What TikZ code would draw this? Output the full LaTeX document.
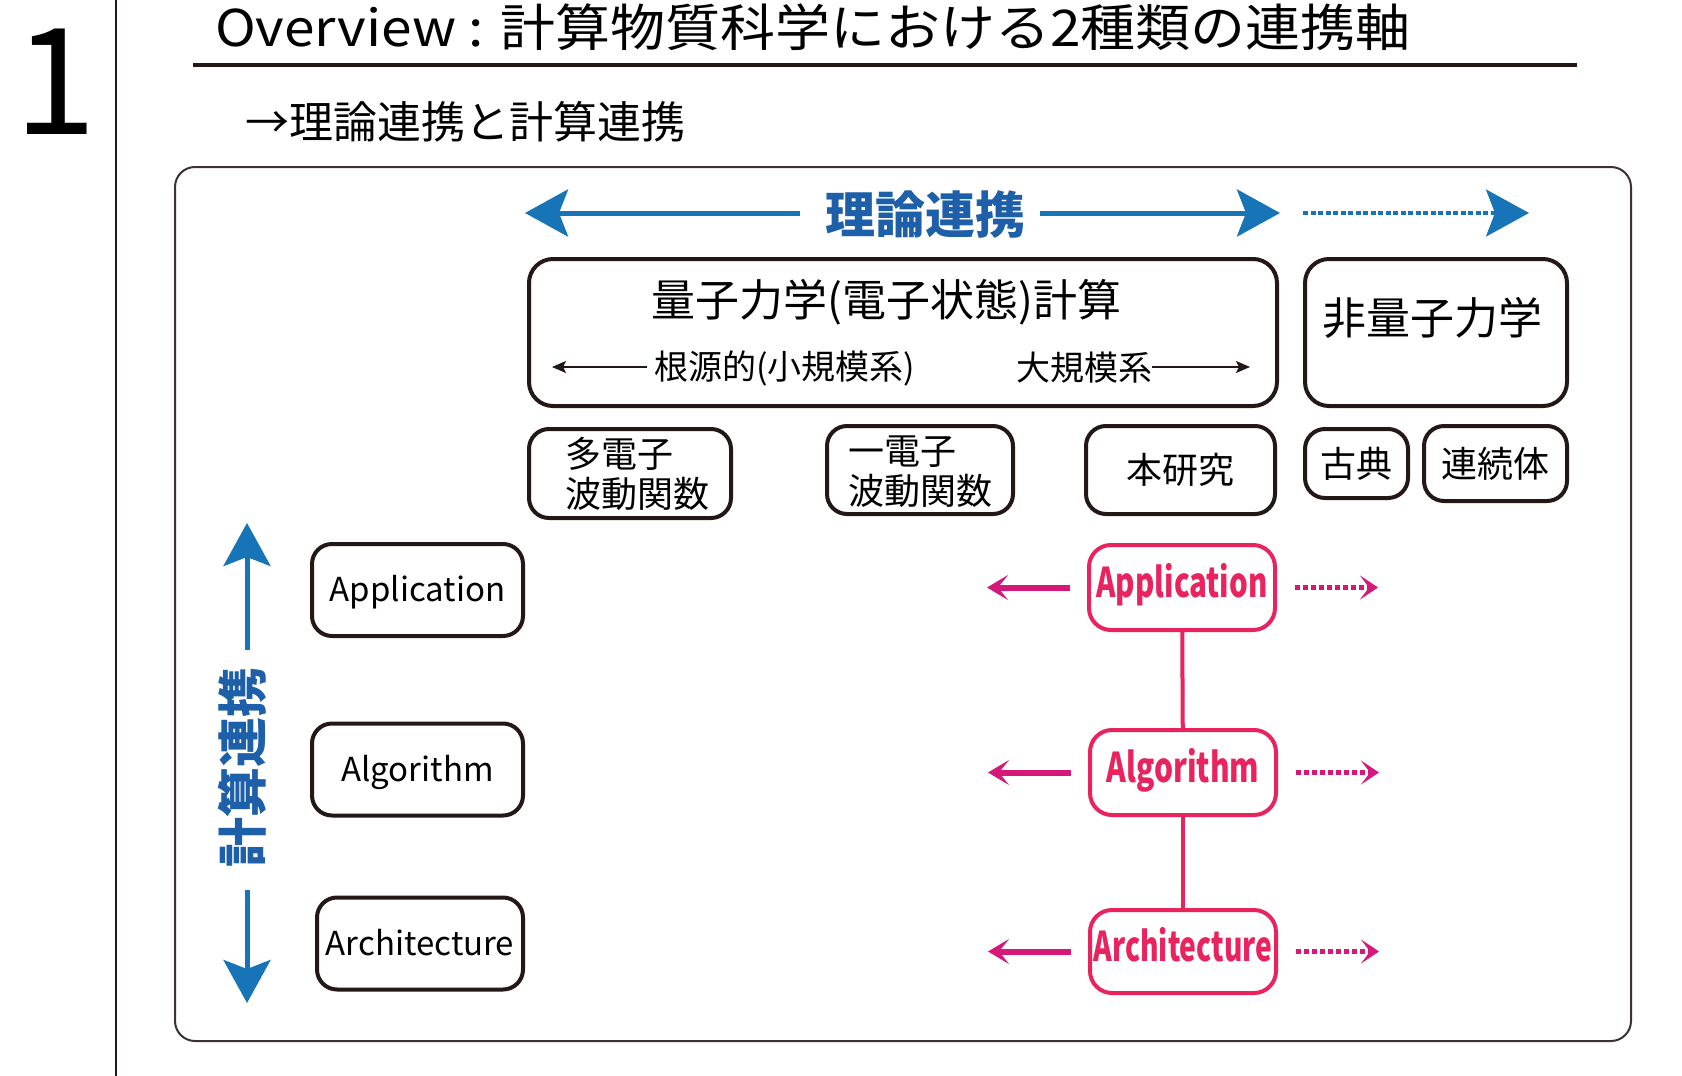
\documentclass[tikz,border=0pt]{standalone}
\usepackage{fontspec}
\setmainfont{Noto Sans CJK JP}
\usetikzlibrary{arrows.meta}
\definecolor{inkc}{RGB}{35,24,21}
\definecolor{bluearr}{RGB}{23,117,183}
\definecolor{bluetxt}{RGB}{30,95,170}
\definecolor{pinkbox}{RGB}{232,35,94}
\definecolor{pinkarr}{RGB}{212,25,122}
\definecolor{framec}{RGB}{60,50,50}
\tikzset{
  bbox/.style={draw=inkc, line width=4pt, rounded corners=20pt},
  lbox/.style={bbox, minimum width=211pt, minimum height=92pt, font=\fontsize{33}{33}\selectfont, text height=23pt, text depth=0pt},
  cjkbox/.style={bbox, font=\fontsize{36}{40}\selectfont},
  pbox/.style={draw=pinkbox, line width=4pt, rounded corners=22pt, minimum width=186pt, minimum height=85pt, text=pinkbox, font=\fontsize{41}{41}\bfseries\selectfont, text height=27pt, text depth=8pt},
  blueaxis/.style={draw=bluearr, line width=5pt, -{Stealth[length=43pt,width=47pt,inset=9pt]}},
  bluedots/.style={draw=bluearr, line width=3.5pt, dash pattern=on 5pt off 2.5pt, -{Stealth[length=43pt,width=47pt,inset=9pt]}},
  pinkleft/.style={draw=pinkarr, line width=6pt, -{Stealth[length=21pt,width=25pt,inset=10pt]}},
  pinkdots/.style={draw=pinkarr, line width=4.5pt, dash pattern=on 5pt off 3pt, -{Stealth[length=18pt,width=24pt,inset=9pt]}},
  pinklink/.style={draw=pinkbox, line width=4pt},
  smallarr/.style={draw=inkc, line width=1.8pt, -{Stealth[length=14pt,width=12pt,inset=3pt]}},
  bluelabel/.style={text=bluetxt, font=\fontsize{50}{50}\bfseries\selectfont}
}
\begin{document}
\begin{tikzpicture}[x=1pt,y=-1pt, every node/.style={inner sep=0pt, outer sep=0pt}]
\path[use as bounding box] (0,0) rectangle (1682,1076);
\clip (0,0) rectangle (1682,1076);
\fill[white] (0,0) rectangle (1682,1076);

% page number and rules
\node[font=\fontsize{148}{148}\selectfont, anchor=base] (num) at (56,134) {1};
\coordinate (vtop) at (116,0);
\coordinate (vbot) at (116,1076);
\draw[inkc, line width=2.5pt] (vtop) -- (vbot);
\node[font=\fontsize{55}{60}\selectfont, anchor=base west] (title) at (215,46) {\scalebox{1}[0.92]{Overview : 計算物質科学における2種類の連携軸}};
\coordinate (ulL) at (193,65);
\coordinate (ulR) at (1577,65);
\draw[inkc, line width=3.5pt] (ulL) -- (ulR);
\node[font=\fontsize{44}{48}\selectfont, anchor=west] (sub) at (245,122) {→理論連携と計算連携};

% frame
\node[draw=framec, line width=2pt, rounded corners=20pt, minimum width=1456pt, minimum height=874pt] (frame) at (903,604) {};

% theory axis
\node[bluelabel] (riron) at (925,215) {理論連携};
\coordinate (rLs) at (800,213);
\coordinate (rL) at (525,213);
\coordinate (rRs) at (1040,213);
\coordinate (rR) at (1280,213);
\coordinate (dS) at (1303,213);
\coordinate (dE) at (1529,213);
\draw[blueaxis] (rLs) -- (rL);
\draw[blueaxis] (rRs) -- (rR);
\draw[bluedots] (dS) -- (dE);

% big boxes
\node[bbox, minimum width=748pt, minimum height=147pt, rounded corners=24pt] (qm) at (903,332.5) {};
\node[font=\fontsize{44}{44}\selectfont] (qmT) at (886.5,302.5) {量子力学(電子状態)計算};
\node[font=\fontsize{34}{34}\selectfont, anchor=west] (kongen) at (654,368) {根源的(小規模系)};
\node[font=\fontsize{34}{34}\selectfont, anchor=east] (daikibo) at (1152,368) {大規模系};
\coordinate (kTip) at (552,367);
\coordinate (dTip) at (1250,367);
\draw[smallarr] ([xshift=-7pt]kongen.west |- kTip) -- (kTip);
\draw[smallarr] (daikibo.east |- dTip) -- (dTip);

\node[bbox, minimum width=262pt, minimum height=147pt, rounded corners=24pt] (nqm) at (1436,332.5) {};
\node[font=\fontsize{44}{44}\selectfont] (nqmT) at (1432,318) {非量子力学};

% small boxes
\node[cjkbox, minimum width=202pt, minimum height=89pt] (tae) at (630,473.5) {};
\node[font=\fontsize{36}{40}\selectfont, align=left, anchor=west] (taeT) at (565,473.5) {多電子\\波動関数};
\node[cjkbox, minimum width=186pt, minimum height=88pt] (ichi) at (920,470) {};
\node[font=\fontsize{36}{40}\selectfont, align=left, anchor=west] (ichiT) at (848,472) {一電子\\波動関数};
\node[cjkbox, minimum width=189pt, minimum height=88pt] (hon) at (1180.5,470) {本研究};
\node[cjkbox, minimum width=103pt, minimum height=69pt] (koten) at (1356.5,463.5) {古典};
\node[cjkbox, minimum width=143pt, minimum height=75pt] (renzoku) at (1495.5,463.5) {連続体};

% computational axis
\node[bluelabel, rotate=90] (keisan) at (242,767) {計算連携};
\coordinate (kUs) at (247,650);
\coordinate (kU) at (247,523);
\coordinate (kDs) at (247,890);
\coordinate (kD) at (247,1003);
\draw[blueaxis] (kUs) -- (kU);
\draw[blueaxis] (kDs) -- (kD);

\node[lbox] (appL) at (417.5,590) {Application};
\node[lbox] (algL) at (417.5,769.5) {Algorithm};
\node[lbox, minimum width=206pt] (arcL) at (420,943.5) {Architecture};

% this work
\node[pbox] (appP) at (1182,587.5) {\scalebox{0.72}[1]{Application}};
\node[pbox] (algP) at (1183,772.5) {\scalebox{0.73}[1]{Algorithm}};
\node[pbox, minimum height=83pt] (arcP) at (1183,951.5) {\scalebox{0.69}[1]{Architecture}};
\draw[pinklink] (appP) -- (algP);
\draw[pinklink] (algP) -- (arcP);
\foreach \n in {appP,algP,arcP}{
  \draw[pinkleft] ([xshift=-19pt]\n.west) -- ([xshift=-102pt]\n.west);
  \draw[pinkdots] ([xshift=20pt]\n.east) -- ([xshift=103pt]\n.east);
}
\end{tikzpicture}
\end{document}
